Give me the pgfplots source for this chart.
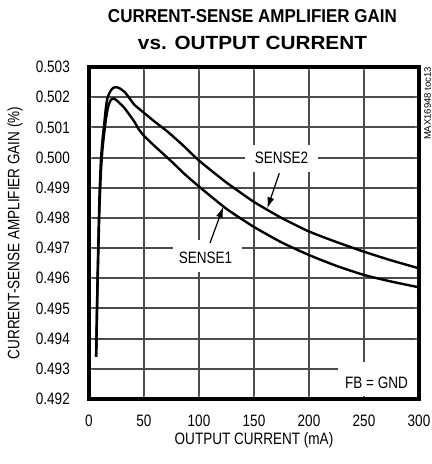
\documentclass[border=0pt]{standalone}
\usepackage{fontspec}
\setmainfont{Liberation Sans}
\newfontfamily\narrowfont[FakeStretch=0.82]{Liberation Sans}
\usepackage{graphicx}
\usepackage{pgfplots}
\pgfplotsset{compat=1.18}
\usetikzlibrary{arrows.meta}
\definecolor{gridc}{gray}{0.3}
\newcommand{\lbl}{\fontsize{16.5bp}{19bp}\narrowfont}
\begin{document}
\begin{tikzpicture}
\path[use as bounding box] (0,0) rectangle (432bp,464bp);
\node[inner sep=0] at (252.5bp,447.5bp) {\resizebox{289bp}{13bp}{\bfseries CURRENT-SENSE AMPLIFIER GAIN}};
\node[inner sep=0] at (252.5bp,420.7bp) {\resizebox{229bp}{13.3bp}{\bfseries vs. OUTPUT CURRENT}};
\node[inner sep=0, rotate=90] at (427.5bp,360.5bp) {\resizebox{73bp}{!}{\fontsize{9.5bp}{11bp}\selectfont MAX16948 toc13}};
\begin{axis}[
  at={(89bp,65bp)}, anchor=south west,
  width=330bp, height=332bp, scale only axis,
  xmin=0, xmax=300, ymin=0.492, ymax=0.503,
  xtick={0,50,...,300},
  ytick={0.492,0.493,0.494,0.495,0.496,0.497,0.498,0.499,0.500,0.501,0.502,0.503},
  grid=major,
  x grid style={gridc, line width=2bp},
  y grid style={gridc, line width=2bp},
  axis line style={black, line width=3.2bp},
  /pgf/number format/assume math mode=true,
  yticklabel style={/pgf/number format/fixed, /pgf/number format/fixed zerofill, /pgf/number format/precision=3},
  xticklabel style={font=\lbl, inner sep=0, anchor=north, yshift=-16bp},
  yticklabel style={font=\lbl, inner sep=0, anchor=east, xshift=-19bp},
  xlabel={OUTPUT CURRENT (mA)},
  ylabel={CURRENT-SENSE AMPLIFIER GAIN (\%)},
  xlabel style={font=\lbl, at={(axis description cs:0.5,-0.1235)}, anchor=center},
  ylabel style={font=\lbl, at={(axis description cs:-0.224,0.5)}, anchor=center},
]
\addplot[black, line width=2.4bp, smooth, tension=0.35] coordinates {
(6.5,0.4934) (7.5,0.4955) (8.5,0.4972) (9.5,0.4987) (10.8,0.4999) (12.3,0.5006)
(13.8,0.5011) (15.5,0.5017) (17,0.5020) (19.5,0.5022) (22,0.50231) (25,0.50233)
(28,0.50229) (33,0.50215) (41,0.50176) (50,0.50148) (60,0.50118) (71,0.50087)
(85,0.50042) (100,0.49990) (125,0.49917) (150,0.49853) (175,0.49800) (200,0.49755)
(225,0.49720) (250,0.49688) (275,0.49659) (300,0.49633)
};
\addplot[black, line width=2.4bp, smooth, tension=0.35] coordinates {
(6.5,0.4934) (7.5,0.4953) (8.5,0.4969) (9.5,0.4983) (10.8,0.4995) (12.3,0.5003)
(13.8,0.5008) (15.5,0.5013) (17.5,0.5017) (20,0.50192) (22.2,0.50196) (25,0.50190)
(32,0.50165) (41,0.50120) (45,0.50095) (50,0.50072) (60,0.50037) (75,0.49987)
(87,0.49945) (100,0.49904) (125,0.49830) (150,0.49770) (175,0.49719) (200,0.49677)
(225,0.49641) (250,0.49611) (275,0.49589) (300,0.49570)
};
\fill[white] (axis cs:141.8,0.500416) rectangle (axis cs:208.2,0.499521);
\node[font=\lbl, inner sep=0] at (axis cs:175,0.5) {SENSE2};
\fill[white] (axis cs:76.4,0.497268) rectangle (axis cs:139.1,0.496208);
\node[font=\lbl, inner sep=0] at (axis cs:105.9,0.496662) {SENSE1};
\fill[white] (axis cs:226.4,0.493226) rectangle (axis cs:298.5,0.4921);
\node[font=\lbl, inner sep=0] at (axis cs:261.4,0.492547) {FB = GND};
\draw[black, line width=1.2bp, -{Latex[length=11bp,width=7bp]}] (axis cs:173.0,0.499478) -- (axis cs:162.1,0.498318);
\draw[black, line width=1.2bp, -{Latex[length=11bp,width=7bp]}] (axis cs:110,0.497169) -- (axis cs:122.1,0.498371);
\end{axis}
\end{tikzpicture}
\end{document}
